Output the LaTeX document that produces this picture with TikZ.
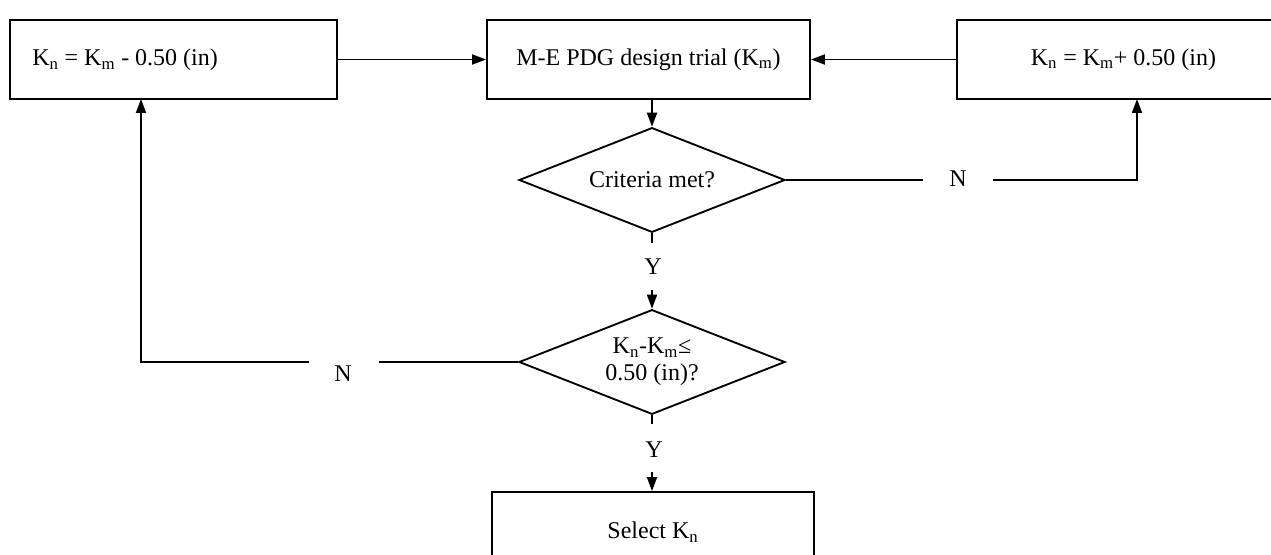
\documentclass[tikz,border=0pt]{standalone}
\usepackage{fontspec}
\setmainfont{Liberation Serif}
\usetikzlibrary{shapes.geometric,arrows.meta}
\newcommand{\sbn}{\textsubscript{n}}
\newcommand{\sbm}{\textsubscript{m}}
\begin{document}
\begin{tikzpicture}[x=0.75pt,y=-0.75pt,
  every node/.style={font=\fontsize{18}{20.5}\selectfont},
  box/.style={draw,line width=1.4pt,rectangle,minimum height=59.25pt,inner sep=0pt},
  dia/.style={draw,line width=1.4pt,diamond,aspect=2.5,minimum width=199.5pt,minimum height=78.5pt,inner sep=0pt,align=center},
  conn/.style={line width=1.4pt},
  arr/.style={line width=1.4pt,-{Triangle[length=10.5pt,width=7.5pt]}},
  lbl/.style={inner sep=0pt}]
\useasboundingbox (0,0) rectangle (1271,555);
\node[box,minimum width=245.25pt] (L) at (173.5,59.5) {};
\node[lbl,anchor=west] (Lt) at (32,60) {K\sbn{} = K\sbm{} - 0.50 (in)};
\node[box,minimum width=242.25pt] (M) at (648.5,59.5) {M-E PDG design trial (K\sbm)};
\node[box,minimum width=249.75pt] (R) at (1123.5,59.5) {K\sbn{} = K\sbm+ 0.50 (in)};
\node[dia] (D1) at (652,180) {Criteria met?};
\node[dia] (D2) at (652,362) {K\sbn-K\sbm≤\\0.50 (in)?};
\node[box,minimum width=241.5pt,minimum height=60pt] (B) at (653,532) {Select K\sbn};
% labels
\node[lbl] (N1) at (958,179) {N};
\node[lbl] (N2) at (343,374) {N};
\node[lbl] (Y1) at (653,267) {Y};
\node[lbl] (Y2) at (654,450) {Y};
% coordinates
\coordinate (n1a) at (923,180);
\coordinate (n1b) at (993,180);
\coordinate (rin) at (1137,99);
\coordinate (n2a) at (379,362);
\coordinate (n2b) at (309,362);
\coordinate (lin) at (141,99);
\coordinate (y1a) at (652,243);
\coordinate (y1b) at (652,290);
\coordinate (y2a) at (652,424);
\coordinate (y2b) at (652,472);
% connectors
\draw[arr] (L.east) -- (M.west);
\draw[arr] (R.west) -- (M.east);
\draw[arr] (M.south -| D1.north) -- (D1.north);
\draw[conn] (D1.east) -- (n1a);
\draw[arr] (n1b) -| (rin);
\draw[conn] (D1.south) -- (y1a);
\draw[arr] (y1b) -- (D2.north);
\draw[conn] (D2.west) -- (n2a);
\draw[arr] (n2b) -| (lin);
\draw[conn] (D2.south) -- (y2a);
\draw[arr] (y2b) -- (y2b |- B.north);
\end{tikzpicture}
\end{document}
